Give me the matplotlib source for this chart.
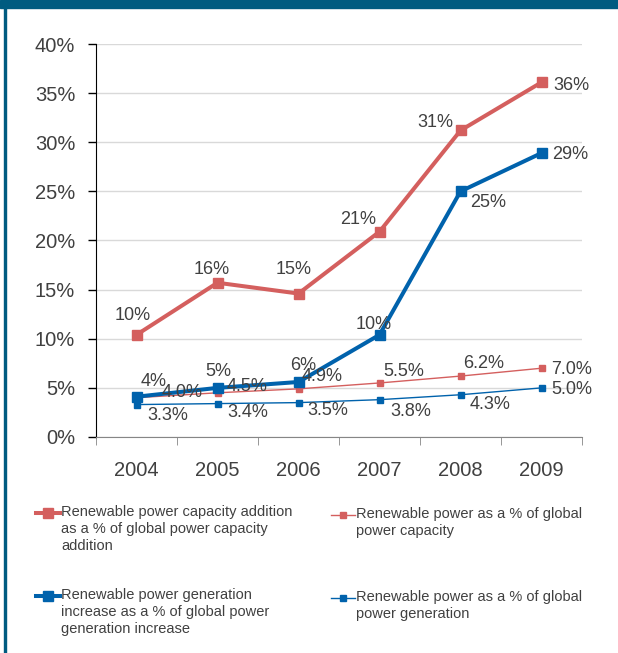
import matplotlib.pyplot as plt
from matplotlib.lines import Line2D
from matplotlib.patches import Rectangle

plt.rcParams['font.family'] = ['Liberation Sans', 'DejaVu Sans']

years = ['2004', '2005', '2006', '2007', '2008', '2009']
cap_addition = [10.4, 15.7, 14.6, 20.9, 31.2, 36.1]
gen_increase = [4.1, 5.0, 5.6, 10.4, 25.0, 28.9]
cap_share = [4.0, 4.5, 4.9, 5.5, 6.2, 7.0]
gen_share = [3.3, 3.4, 3.5, 3.8, 4.3, 5.0]

cap_addition_labels = ['10%', '16%', '15%', '21%', '31%', '36%']
gen_increase_labels = ['4%', '5%', '6%', '10%', '25%', '29%']
cap_share_labels = ['4.0%', '4.5%', '4.9%', '5.5%', '6.2%', '7.0%']
gen_share_labels = ['3.3%', '3.4%', '3.5%', '3.8%', '4.3%', '5.0%']

legend_labels = [
    'Renewable power capacity addition\nas a % of global power capacity\naddition',
    'Renewable power as a % of global\npower capacity',
    'Renewable power generation\nincrease as a % of global power\ngeneration increase',
    'Renewable power as a % of global\npower generation',
]

red = '#D45F5E'
blue = '#0062AC'
txt = '#404040'
teal = '#005B80'

fig = plt.figure(figsize=(6.18, 6.53), dpi=100)
ax = fig.add_axes([96 / 618, 1 - 437 / 653, 486 / 618, 393 / 653])

x = list(range(len(years)))
ax.plot(x, cap_addition, color=red, lw=2.9, marker='s', ms=7, zorder=4)
ax.plot(x, gen_increase, color=blue, lw=2.9, marker='s', ms=7, zorder=5)
ax.plot(x, cap_share, color=red, lw=1.0, marker='s', ms=5, zorder=3)
ax.plot(x, gen_share, color=blue, lw=1.0, marker='s', ms=5, zorder=3)

# label offsets in pixels (right, up) from each point
off_cap_add = [(-4, 19), (-6, 13), (-5, 24), (-21, 12), (-25, 8), (30, -3)]
off_gen_inc = [(17, 15), (1, 16), (5, 16), (-6, 10), (28, -11), (29, -1)]
off_cap_share = [(46, 5), (30, 6), (24, 12), (24, 11), (23, 13), (30, -1)]
off_gen_share = [(31, -11), (30, -9), (29, -8), (31, -12), (30, -10), (30, -2)]

for vals, labs, offs in [(cap_addition, cap_addition_labels, off_cap_add),
                         (gen_increase, gen_increase_labels, off_gen_inc),
                         (cap_share, cap_share_labels, off_cap_share),
                         (gen_share, gen_share_labels, off_gen_share)]:
    for i, (v, lab, o) in enumerate(zip(vals, labs, offs)):
        ax.annotate(lab, (i, v), xytext=o, textcoords='offset pixels',
                    ha='center', va='center', fontsize=13, color=txt, zorder=6)

ax.set_xlim(-0.5, len(years) - 0.5)
ax.set_ylim(0, 40)
ax.set_yticks(range(0, 41, 5))
ax.set_yticklabels(['%d%%' % v for v in range(0, 41, 5)])
ax.set_xticks(x)
ax.set_xticklabels(years)
ax.set_xticks([i - 0.5 for i in range(len(years) + 1)], minor=True)
ax.tick_params(axis='x', which='major', length=0, pad=17, labelsize=14.5, labelcolor=txt)
ax.tick_params(axis='x', which='minor', length=6, color='#868686', direction='out')
ax.tick_params(axis='y', length=6, width=1, pad=9, labelsize=14.5, labelcolor=txt)
ax.grid(axis='y', color='#D9D9D9', lw=1)
ax.set_axisbelow(True)
for s in ['top', 'right']:
    ax.spines[s].set_visible(False)
ax.spines['bottom'].set_color('#868686')
ax.spines['left'].set_color('black')

# legend drawn by hand in figure pixels
entries = [(cap_addition, red, 2.9, 7, 36, 513, legend_labels[0]),
           (cap_share, red, 1.0, 5, 331, 515, legend_labels[1]),
           (gen_increase, blue, 2.9, 7, 36, 596, legend_labels[2]),
           (gen_share, blue, 1.0, 5, 331, 598, legend_labels[3])]
for _, col, lw, ms, lx, ly, lab in entries:
    yf = 1 - ly / 653
    fig.add_artist(Line2D([lx / 618, (lx + 24) / 618], [yf, yf], color=col, lw=lw,
                          transform=fig.transFigure))
    fig.add_artist(Line2D([(lx + 12) / 618], [yf], color=col, marker='s', ms=ms,
                          transform=fig.transFigure))
    fig.text((lx + 25) / 618, yf + 8 / 653, lab, ha='left', va='top', fontsize=10.5,
             color=txt, linespacing=1.25)

# frame: header bar and left border
fig.add_artist(Rectangle((0, 1 - 8 / 653), 1, 8 / 653, color=teal,
                         transform=fig.transFigure))
fig.add_artist(Rectangle((3.5 / 618, 0), 2.5 / 618, 1, color=teal,
                         transform=fig.transFigure))

fig.savefig('out.png', dpi=100)
